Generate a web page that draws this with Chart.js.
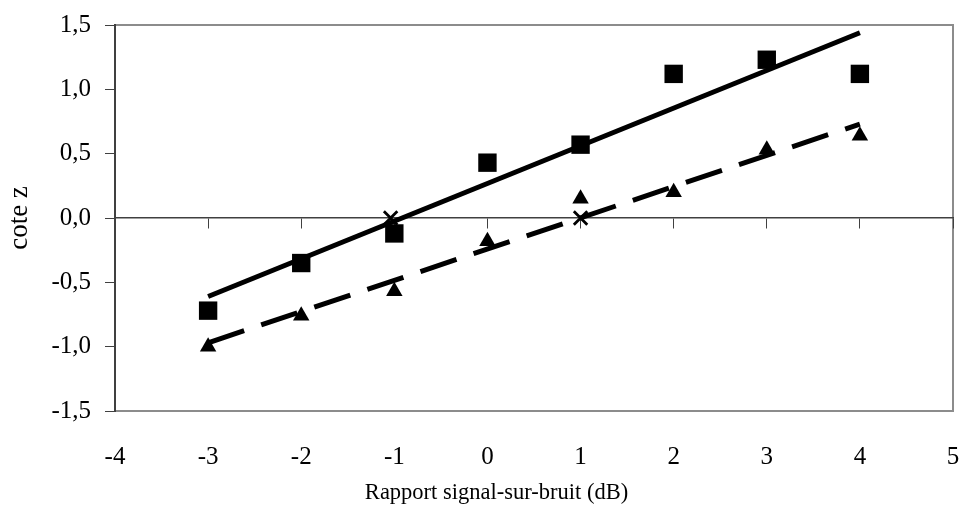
<!DOCTYPE html>
<html>
<head>
<meta charset="utf-8">
<script src="https://cdn.jsdelivr.net/npm/chart.js@4.4.1/dist/chart.umd.min.js"></script>
<style>
  html, body { margin: 0; padding: 0; background: #fff; overflow: hidden; }
</style>
</head>
<body>
<canvas id="graficoCoteZ" width="966" height="516"></canvas>
<script>
// rapport signal-sur-bruit (dB)
const snr = [-3, -2, -1, 0, 1, 2, 3, 4];
// cote z, série carrés
const coteCarres = [-0.72, -0.35, -0.12, 0.43, 0.57, 1.12, 1.23, 1.12];
// cote z, série triangles
const coteTriangles = [-1.0, -0.76, -0.57, -0.18, 0.15, 0.20, 0.53, 0.64];
// droites de tendance (extrémités)
const trendX = [-3, 4];
const trendCarres = [-0.61, 1.44];
const trendTriangles = [-0.97, 0.73];
// croix sur l'axe zéro
const croixX = [-1.04, 1.0];
const croixY = [0, 0];
// graduations
const xTicks = [-4, -3, -2, -1, 0, 1, 2, 3, 4, 5];
const yTicks = [-1.5, -1.0, -0.5, 0.0, 0.5, 1.0, 1.5];

const toPoints = (xs, ys) => xs.map((x, i) => ({ x: x, y: ys[i] }));
const fmt = v => Number(v).toFixed(1).replace('.', ',');
const serif = '"Liberation Serif", "Times New Roman", serif';

// cadre gris de la zone de tracé
const cadreGris = {
    id: 'cadreGris',
    beforeDraw(chart) {
        const { ctx, chartArea: a } = chart;
        ctx.save();
        ctx.strokeStyle = '#8c8c8c';
        ctx.lineWidth = 2;
        ctx.strokeRect(a.left, a.top, a.right - a.left, a.bottom - a.top);
        ctx.restore();
    }
};

const ctx = document.getElementById('graficoCoteZ').getContext('2d');
new Chart(ctx, {
    type: 'scatter',
    data: {
        datasets: [
            {
                label: 'carrés',
                data: toPoints(snr, coteCarres),
                pointStyle: 'rect',
                pointRadius: 13,
                pointBackgroundColor: '#000',
                pointBorderWidth: 0,
                order: 0
            },
            {
                label: 'triangles',
                data: toPoints(snr, coteTriangles),
                pointStyle: 'triangle',
                pointRadius: 9.5,
                pointBackgroundColor: '#000',
                pointBorderWidth: 0,
                order: 0
            },
            {
                label: 'croix',
                data: toPoints(croixX, croixY),
                pointStyle: 'crossRot',
                pointRadius: 9.5,
                pointBorderColor: '#000',
                pointBorderWidth: 2.8,
                order: 0
            },
            {
                label: 'tendance carrés',
                data: toPoints(trendX, trendCarres),
                showLine: true,
                borderColor: '#000',
                borderWidth: 5,
                pointRadius: 0,
                order: 1
            },
            {
                label: 'tendance triangles',
                data: toPoints(trendX, trendTriangles),
                showLine: true,
                borderColor: '#000',
                borderWidth: 5,
                borderDash: [38, 18],
                pointRadius: 0,
                order: 1
            }
        ]
    },
    options: {
        responsive: false,
        animation: false,
        layout: { padding: { left: 33, right: 6, top: 25, bottom: 0 } },
        plugins: {
            legend: { display: false },
            tooltip: { enabled: false },
            title: {
                display: true,
                position: 'bottom',
                text: 'Rapport signal-sur-bruit (dB)',
                color: '#000',
                font: { family: serif, size: 22.5, weight: 'normal' },
                padding: { top: 4, bottom: 9 }
            }
        },
        scales: {
            x: {
                type: 'linear',
                position: 'bottom',
                min: -4,
                max: 5,
                afterBuildTicks: s => { s.ticks = xTicks.map(v => ({ value: v })); },
                afterFit: s => { s.height = 65; },
                // marques invisibles : elles ne servent qu'à décaler les libellés
                grid: { drawOnChartArea: false, drawTicks: true, tickLength: 28, color: 'rgba(0,0,0,0)' },
                border: { display: false },
                ticks: { color: '#000', font: { family: serif, size: 25 }, padding: 3 }
            },
            x0: {
                type: 'linear',
                axis: 'x',
                position: { y: 0 },
                min: -4,
                max: 5,
                afterBuildTicks: s => { s.ticks = xTicks.map(v => ({ value: v })); },
                afterFit: s => { s.height = 0; },
                grid: { drawOnChartArea: false, drawTicks: true, tickLength: 10, color: '#404040' },
                border: { color: '#404040', width: 1.5 },
                ticks: { display: false }
            },
            y: {
                type: 'linear',
                min: -1.5,
                max: 1.5,
                afterBuildTicks: s => { s.ticks = yTicks.map(v => ({ value: v })); },
                afterFit: s => { s.width = 82; },
                grid: { drawOnChartArea: false, drawTicks: true, tickLength: 10, color: '#404040' },
                border: { color: '#404040', width: 2 },
                ticks: {
                    color: '#000',
                    font: { family: serif, size: 25, lineHeight: 0.85 },
                    padding: 14,
                    callback: v => fmt(v)
                },
                title: {
                    display: true,
                    text: 'cote z',
                    color: '#000',
                    font: { family: serif, size: 27 },
                    padding: { top: -29, bottom: 0 }
                }
            }
        }
    },
    plugins: [cadreGris]
});
</script>
</body>
</html>
